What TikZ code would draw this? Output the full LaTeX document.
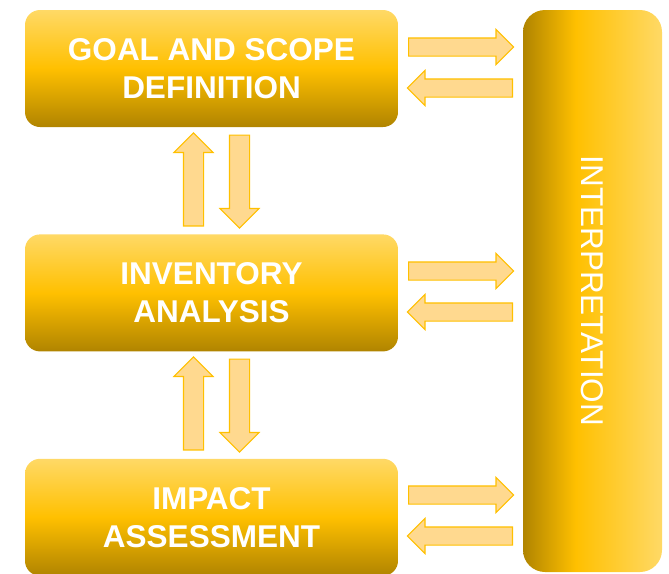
\documentclass[tikz,border=0pt]{standalone}
\usepackage{fontspec}
\setmainfont{Liberation Sans}
\usetikzlibrary{positioning, shapes.arrows}

\definecolor{goldlight}{RGB}{255,217,102}
\definecolor{goldmid}{RGB}{255,192,0}
\definecolor{golddark}{RGB}{176,132,0}
\definecolor{arrowfill}{RGB}{255,217,143}
\definecolor{arrowline}{RGB}{255,192,0}

\pgfdeclarehorizontalshading{interpshade}{100bp}{color(0bp)=(golddark); color(25bp)=(golddark); color(44bp)=(goldmid); color(75bp)=(goldlight); color(100bp)=(goldlight)}

\begin{document}
\begin{tikzpicture}[
    x=1pt, y=-1pt,
    stage/.style={
      rectangle,
      rounded corners=15pt,
      minimum width=373pt,
      minimum height=117pt,
      inner sep=0pt,
      top color=goldlight,
      bottom color=golddark,
      middle color=goldmid,
      text=white,
      align=center,
      font=\fontsize{31.5}{38}\selectfont\bfseries
    },
    interp/.style={
      rectangle,
      rounded corners=22pt,
      minimum width=139pt,
      minimum height=562pt,
      inner sep=0pt,
      shade,
      shading=interpshade
    },
    fatarrow/.style={
      single arrow,
      anchor=tail,
      draw=arrowline,
      fill=arrowfill,
      line width=1.1pt,
      minimum height=105pt,
      inner xsep=0pt,
      inner ysep=8.5pt,
      single arrow head extend=8.5pt
    },
    vfatarrow/.style={
      fatarrow,
      minimum height=93pt,
      inner ysep=9.5pt,
      single arrow head extend=9.5pt
    }
  ]
    \useasboundingbox (0,0) rectangle (669,573);

    \node[stage] (goal) at (211.5,68.5) {GOAL AND SCOPE\\DEFINITION};
    \node[stage, below=107pt of goal] (inventory) {INVENTORY\\ANALYSIS};
    \node[stage, below=107pt of inventory] (impact) {IMPACT\\ASSESSMENT};
    \node[interp, label={[rotate=-90, text=white, font=\fontsize{31.5}{38}\selectfont]center:INTERPRETATION}] (interpretation) at (592.5,291) {};

    % arrows to and from interpretation
    \foreach \dy [count=\i] in {0,224,448} {
      \node[fatarrow] (toint\i) at (408,{47+\dy}) {};
      \node[fatarrow, rotate=180] (fromint\i) at (513,{88+\dy}) {};
    }
    % arrows between the stages
    \foreach \dy [count=\i] in {0,224} {
      \node[vfatarrow, rotate=90] (up\i) at (193.5,{226.5+\dy}) {};
      \node[vfatarrow, rotate=-90] (down\i) at (239.5,{134.5+\dy}) {};
    }
  \end{tikzpicture}
\end{document}
